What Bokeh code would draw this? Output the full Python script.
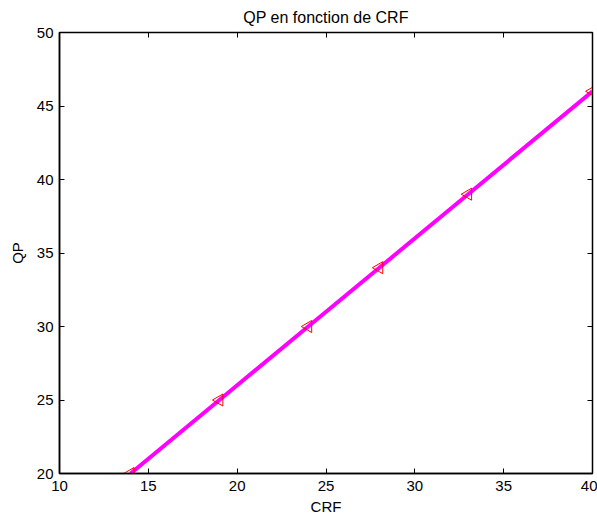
import math
from bokeh.plotting import figure
from bokeh.models import LinearAxis, FixedTicker, Range1d
from bokeh.embed import file_html
from bokeh.resources import INLINE

crf = [14, 19, 24, 28, 33, 40]
qp = [20, 25, 30, 34, 39, 46]
x_ticks = [10, 15, 20, 25, 30, 35, 40]
y_ticks = [20, 25, 30, 35, 40, 45, 50]

font = "Liberation Sans"
fs = "15px"

p = figure(width=597, height=522, output_backend="svg", toolbar_location=None,
           x_range=Range1d(10, 40), y_range=Range1d(20, 50),
           min_border_left=59, min_border_right=5, min_border_top=32, min_border_bottom=49,
           title="QP en fonction de CRF")
p.title.align = "center"
p.title.text_font = font
p.title.text_font_size = "16px"
p.title.text_font_style = "normal"
p.title.text_color = "black"
p.title.offset = 0
p.title.standoff = 10
p.title.vertical_align = "top"
p.xgrid.visible = False
p.ygrid.visible = False
p.outline_line_color = "black"
p.outline_line_width = 1.5

for ax in [p.xaxis[0], p.yaxis[0]]:
    ax.major_tick_in = 5
    ax.major_tick_out = 0
    ax.minor_tick_in = 0
    ax.minor_tick_out = 0
    ax.axis_line_color = "black"
    ax.axis_line_width = 1.5
    ax.major_tick_line_color = "black"
    ax.major_label_text_font = font
    ax.major_label_text_font_size = fs
    ax.major_label_text_color = "black"
    ax.axis_label_text_font = font
    ax.axis_label_text_font_size = fs
    ax.axis_label_text_font_style = "normal"
    ax.axis_label_text_color = "black"

p.xaxis[0].ticker = FixedTicker(ticks=x_ticks)
p.yaxis[0].ticker = FixedTicker(ticks=y_ticks)
p.xaxis[0].axis_label = "CRF"
p.yaxis[0].axis_label = "QP"
p.xaxis[0].major_label_standoff = 7
p.yaxis[0].major_label_standoff = 6
p.xaxis[0].axis_label_standoff = 4
p.yaxis[0].axis_label_standoff = 8

top = LinearAxis(ticker=FixedTicker(ticks=x_ticks),
                 major_label_overrides={t: "" for t in x_ticks},
                 major_tick_in=5, major_tick_out=0, minor_tick_in=0, minor_tick_out=0,
                 axis_line_color="black", major_label_standoff=0)
right = LinearAxis(ticker=FixedTicker(ticks=y_ticks),
                   major_label_overrides={t: "" for t in y_ticks},
                   major_tick_in=5, major_tick_out=0, minor_tick_in=0, minor_tick_out=0,
                   axis_line_color="black", major_label_standoff=0)
p.add_layout(top, "above")
p.add_layout(right, "right")

p.line(crf, qp, line_color="#ff00ff", line_width=4)
p.scatter(crf, qp, marker="triangle", angle=math.pi / 2, size=12,
          fill_color=None, line_color="red", line_width=1)

open("out.html", "w").write(file_html(p, INLINE))
